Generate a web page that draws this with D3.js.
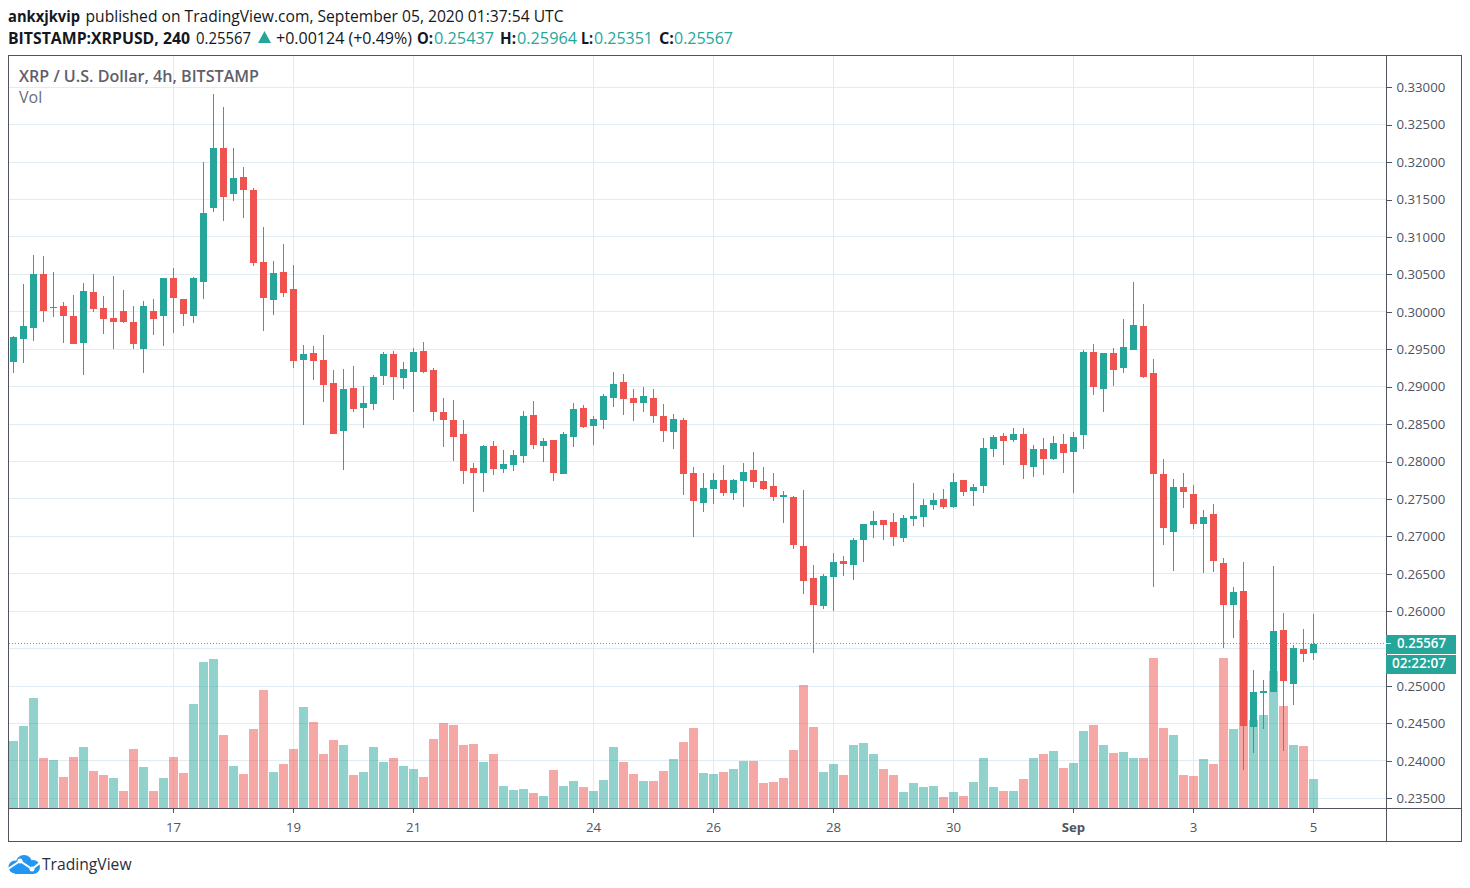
<!DOCTYPE html>
<html>
<head>
<meta charset="utf-8"/>
<title>XRP / U.S. Dollar, 4h, BITSTAMP</title>
<script src="https://d3js.org/d3.v7.min.js"></script>
<style>
  html, body { margin: 0; background: #fff; }
  svg { display: block; }
  text { font-family: "Open Sans", "Noto Sans", sans-serif; }
</style>
</head>
<body>
<svg id="chart" width="1470" height="888"></svg>
<script>
// 4h candles
var opens = [
  .29326,.29633,.29780,.30501,.30047,.30074,.29940,.29579,.30261,.30047,
  .29914,.30007,.29860,.29499,.30007,.29940,.30448,.30167,.29940,.30394,
  .31383,.32185,.31570,.31797,.31624,.30661,.30154,.30528,.30301,.29352,
  .29446,.29352,.29045,.28403,.28978,.28711,.28764,.29138,.29432,.29112,
  .29192,.29472,.29219,.28657,.28550,.28363,.27909,.27842,.28203,.27896,
  .27949,.28069,.28617,.28203,.28283,.27829,.28323,.28711,.28470,.28550,
  .28844,.29058,.28845,.28778,.28845,.28604,.28391,.28551,.27843,.27442,
  .27629,.27749,.27575,.27736,.27883,.27736,.27669,.27522,.27522,.26867,
  .26440,.26066,.26453,.26667,.26613,.26947,.27148,.27215,.27187,.26974,
  .27227,.27254,.27415,.27495,.27388,.27749,.27602,.27668,.28163,.28337,
  .28283,.28363,.27922,.28163,.28029,.28230,.28123,.28350,.29459,.28965,
  .29446,.29245,.29486,.29806,.29178,.27829,.27054,.27655,.27561,.27161,
  .27294,.26639,.26078,.26265,.24448,.24903,.24916,.25744,.25023,.25490,.25437
];
var highs = [
  .29673,.30368,.30755,.30742,.30528,.30127,.30221,.30381,.30501,.30207,
  .30475,.30288,.30074,.30141,.30167,.30448,.30582,.30167,.30466,.31998,
  .32906,.32733,.32185,.31931,.31650,.31129,.30675,.30902,.30622,.29553,
  .29539,.29686,.29219,.29232,.29272,.29005,.29152,.29459,.29472,.29325,
  .29512,.29593,.29245,.28844,.28818,.28550,.27976,.28216,.28270,.28150,
  .28150,.28671,.28804,.28310,.28283,.28390,.28778,.28751,.28604,.28898,
  .29192,.29165,.28965,.28992,.28965,.28765,.28631,.28578,.27923,.27843,
  .27843,.27950,.27763,.27976,.28123,.27923,.27843,.27602,.27535,.27616,
  .26613,.26493,.26774,.26734,.26974,.27161,.27335,.27215,.27308,.27281,
  .27708,.27495,.27575,.27628,.27842,.27749,.27695,.28310,.28350,.28377,
  .28443,.28443,.28216,.28310,.28337,.28363,.28390,.29486,.29566,.29446,
  .29512,.29900,.30394,.30100,.29365,.28029,.27762,.27842,.27682,.27348,
  .27428,.26706,.26319,.26653,.25210,.25076,.26599,.25971,.25544,.25758,.25964
];
var lows = [
  .29179,.29312,.29606,.29860,.29927,.29579,.29566,.29152,.29994,.29700,
  .29499,.29847,.29499,.29179,.29686,.29539,.29713,.29807,.29847,.30167,
  .31330,.31209,.31477,.31249,.30608,.29740,.29954,.30194,.29245,.28484,
  .29085,.28791,.28363,.27882,.28657,.28444,.28684,.29018,.28818,.28965,
  .28657,.29178,.28537,.28190,.28003,.27695,.27321,.27588,.27816,.27842,
  .27869,.27976,.28163,.27989,.27735,.27829,.28190,.28444,.28216,.28430,
  .28724,.28617,.28538,.28658,.28511,.28257,.28163,.27549,.26988,.27322,
  .27429,.27535,.27482,.27388,.27642,.27616,.27469,.27175,.26827,.26226,
  .25438,.26025,.25999,.26466,.26413,.26653,.26974,.26947,.26867,.26920,
  .27134,.27121,.27348,.27361,.27374,.27535,.27401,.27575,.28056,.27949,
  .28256,.27762,.27789,.27815,.28016,.27842,.27575,.28163,.28884,.28657,
  .29005,.29178,.29486,.29112,.26319,.26880,.26533,.27374,.27094,.26506,
  .26519,.25504,.25637,.23874,.24101,.24421,.24916,.24127,.24742,.25317,.25351
];
var closes = [
  .29660,.29807,.30501,.30007,.30060,.29940,.29566,.30274,.30034,.29900,
  .29860,.29860,.29566,.30074,.29900,.30448,.30181,.29967,.30448,.31316,
  .32185,.31530,.31784,.31624,.30648,.30181,.30515,.30247,.29339,.29432,
  .29339,.29018,.28363,.28965,.28697,.28778,.29125,.29432,.29125,.29232,
  .29459,.29192,.28657,.28550,.28323,.27869,.27842,.28203,.27896,.27962,
  .28083,.28604,.28216,.28270,.27842,.28363,.28697,.28457,.28564,.28871,
  .29031,.28831,.28778,.28872,.28604,.28404,.28564,.27829,.27469,.27642,
  .27749,.27575,.27749,.27856,.27722,.27629,.27522,.27549,.26881,.26400,
  .26079,.26466,.26653,.26627,.26947,.27161,.27201,.27148,.26988,.27241,
  .27268,.27415,.27481,.27388,.27722,.27588,.27655,.28176,.28323,.28270,
  .28363,.27949,.28163,.28029,.28243,.28109,.28323,.29459,.28991,.29446,
  .29218,.29526,.29820,.29125,.27829,.27107,.27655,.27588,.27161,.27254,
  .26666,.26078,.26252,.24462,.24916,.24929,.25731,.25063,.25504,.25424,.25567
];
// volume has no scale in the picture, so these are relative units
var volumes = [
  670,820,1100,500,480,310,510,610,370,330,
  300,170,590,410,170,300,510,350,1040,1460,
  1490,730,420,340,790,1180,360,440,590,1010,
  860,540,680,630,330,360,610,460,500,420,
  390,310,690,850,830,630,640,460,540,220,
  180,190,150,120,380,220,270,210,170,280,
  610,460,340,270,270,370,490,660,800,350,
  340,360,390,470,470,250,260,300,580,1230,
  810,360,440,330,630,650,540,390,330,160,
  250,210,220,110,160,120,260,500,210,170,
  170,290,500,540,570,400,450,770,830,630,
  550,560,500,500,1500,800,730,330,320,490,
  440,1500,790,1880,880,930,1370,1020,630,620,290
];
// two near-doji bars whose volume colour differs from the candle colour
var volumeColorFlips = [10, 77];

var priceTicks = [.235,.24,.245,.25,.255,.26,.265,.27,.275,.28,.285,.29,.295,.3,.305,.31,.315,.32,.325,.33];
var timeTickIndex = [16, 28, 40, 58, 70, 82, 94, 106, 118, 130];
var timeTickLabels = ["17", "19", "21", "24", "26", "28", "30", "Sep", "3", "5"];

var lastPrice = 0.25567;
var countdown = "02:22:07";

var up = "#26a69a", down = "#ef5350", gridColor = "#e1ecf2", lineColor = "#50535e";
var frame = {left: 8.5, top: 55.5, right: 1461.5, bottom: 841.5, axisX: 1386.5, axisY: 808.5};

var svg = d3.select("#chart");

var x = d3.scaleLinear().domain([0, 130]).range([13.5, 1313.5]);
var y = d3.scaleLinear().domain([0.235, 0.33]).range([798.3, 87.3]);
var yVol = d3.scaleLinear().domain([0, 1880]).range([808, 620]);

// grid
var grid = svg.append("g").attr("shape-rendering", "crispEdges").attr("stroke", gridColor);
grid.selectAll(".h").data(priceTicks).enter().append("line")
    .attr("x1", frame.left).attr("x2", frame.axisX)
    .attr("y1", function(d) { return y(d); }).attr("y2", function(d) { return y(d); });
grid.selectAll(".v").data(timeTickIndex).enter().append("line")
    .attr("y1", frame.top).attr("y2", frame.axisY)
    .attr("x1", function(d) { return x(d); }).attr("x2", function(d) { return x(d); });

// volume
var idx = d3.range(closes.length);
function isUp(i) { return closes[i] >= opens[i]; }

svg.append("g").attr("shape-rendering", "crispEdges").attr("opacity", 0.5)
  .selectAll("rect").data(idx).enter().append("rect")
    .attr("x", function(i) { return x(i) - 4.5; })
    .attr("width", 9)
    .attr("y", function(i) { return yVol(volumes[i]); })
    .attr("height", function(i) { return yVol(0) - yVol(volumes[i]); })
    .attr("fill", function(i) {
      var u = isUp(i);
      if (volumeColorFlips.indexOf(i) >= 0) u = !u;
      return u ? up : down;
    });

// candles
var candles = svg.append("g").attr("shape-rendering", "crispEdges");
candles.selectAll("line").data(idx).enter().append("line")
    .attr("x1", function(i) { return x(i); })
    .attr("x2", function(i) { return x(i); })
    .attr("y1", function(i) { return y(highs[i]); })
    .attr("y2", function(i) { return y(lows[i]); })
    .attr("stroke", function(i) { return isUp(i) ? up : down; });
candles.selectAll("rect").data(idx).enter().append("rect")
    .attr("x", function(i) { return x(i) - 3.5; })
    .attr("width", 7)
    .attr("y", function(i) { return y(Math.max(opens[i], closes[i])); })
    .attr("height", function(i) { return Math.max(1, Math.abs(y(opens[i]) - y(closes[i]))); })
    .attr("fill", function(i) { return isUp(i) ? up : down; });

// last price line
svg.append("line")
    .attr("x1", frame.left).attr("x2", frame.axisX)
    .attr("y1", y(lastPrice)).attr("y2", y(lastPrice))
    .attr("stroke", "#1fb8aa").attr("stroke-dasharray", "1 2")
    .attr("shape-rendering", "crispEdges");

// frame
var border = svg.append("g").attr("fill", "none").attr("stroke", lineColor).attr("shape-rendering", "crispEdges");
border.append("rect")
    .attr("x", frame.left).attr("y", frame.top)
    .attr("width", frame.right - frame.left).attr("height", frame.bottom - frame.top);
border.append("line").attr("x1", frame.left).attr("x2", frame.right).attr("y1", frame.axisY).attr("y2", frame.axisY);
border.append("line").attr("x1", frame.axisX).attr("x2", frame.axisX).attr("y1", frame.top).attr("y2", frame.bottom);

// axes
var priceAxis = svg.append("g")
    .attr("transform", "translate(" + frame.axisX + ",0)")
    .call(d3.axisRight(y).tickValues(priceTicks).tickFormat(d3.format(".5f")).tickSize(5).tickPadding(5));
priceAxis.select(".domain").remove();
// the last price tag sits where this label would be
priceAxis.selectAll("text").filter(function(d) { return d === 0.255; }).remove();

var timeAxis = svg.append("g")
    .attr("transform", "translate(0," + frame.axisY + ")")
    .call(d3.axisBottom(x).offset(0).tickValues(timeTickIndex)
      .tickFormat(function(d) { return timeTickLabels[timeTickIndex.indexOf(d)]; })
      .tickSize(4).tickPadding(10));
timeAxis.select(".domain").remove();

[priceAxis, timeAxis].forEach(function(a) {
  a.selectAll("line").attr("stroke", lineColor).attr("shape-rendering", "crispEdges");
  a.selectAll("text").attr("fill", lineColor)
    .style("font-family", '"Open Sans", sans-serif').style("font-size", "13.2px");
});
timeAxis.selectAll("text").filter(function(d) { return d === 106; }).style("font-weight", 700);

// last price tags
var tags = [[lastPrice.toFixed(5), 635, 19, 1397, 49], [countdown, 655, 19, 1392, 54]];
tags.forEach(function(t) {
  svg.append("rect").attr("x", 1386).attr("y", t[1]).attr("width", 70).attr("height", t[2]).attr("fill", up);
  svg.append("text").attr("x", t[3]).attr("y", t[1] + 13).attr("fill", "#fff")
    .attr("font-size", 14).attr("font-weight", 600)
    .attr("textLength", t[4]).attr("lengthAdjust", "spacingAndGlyphs").text(t[0]);
});
svg.append("line").attr("x1", 1386).attr("x2", 1391)
    .attr("y1", y(lastPrice)).attr("y2", y(lastPrice))
    .attr("stroke", "#fff").attr("shape-rendering", "crispEdges");

// pane legend
svg.append("text").attr("x", 19).attr("y", 81.5).attr("font-size", 15.5).attr("font-weight", 600)
    .attr("fill", "#5d606b").attr("textLength", 240).attr("lengthAdjust", "spacingAndGlyphs")
    .text("XRP / U.S. Dollar, 4h, BITSTAMP");
svg.append("text").attr("x", 19).attr("y", 102.5).attr("font-size", 16)
    .attr("fill", "#6a6d78").text("Vol");

// header
function put(px, py, str, weight, fill, len) {
  svg.append("text").attr("x", px).attr("y", py).attr("font-size", 15.5)
    .attr("font-weight", weight).attr("fill", fill)
    .attr("textLength", len).attr("lengthAdjust", "spacingAndGlyphs").text(str);
}
var ink = "#131722";
put(8, 21.5, "ankxjkvip", 700, ink, 72);
put(85.5, 21.5, "published on TradingView.com, September 05, 2020 01:37:54 UTC", 400, ink, 478);
put(8, 43.5, "BITSTAMP:XRPUSD, 240", 700, ink, 182);
put(196, 43.5, "0.25567", 400, ink, 55);
svg.append("path").attr("d", "M258,43L264.5,31L271,43Z").attr("fill", up);
put(276, 43.5, "+0.00124 (+0.49%)", 400, ink, 136);
put(417, 43.5, "O:", 700, ink, 16);
put(434, 43.5, "0.25437", 400, up, 60);
put(500, 43.5, "H:", 700, ink, 16);
put(517, 43.5, "0.25964", 400, up, 60);
put(581, 43.5, "L:", 700, ink, 12);
put(594, 43.5, "0.25351", 400, up, 59);
put(659, 43.5, "C:", 700, ink, 15);
put(674, 43.5, "0.25567", 400, up, 59);

// logo
var logo = svg.append("g").attr("fill", "#2196f3");
logo.append("circle").attr("cx", 15).attr("cy", 867).attr("r", 6.5);
logo.append("circle").attr("cx", 24).attr("cy", 863).attr("r", 8);
logo.append("circle").attr("cx", 33).attr("cy", 867).attr("r", 7);
logo.append("rect").attr("x", 15).attr("y", 866).attr("width", 18).attr("height", 8);
svg.append("path").attr("d", "M8,869L20,861L32,869L41,862")
    .attr("fill", "none").attr("stroke", "#fff").attr("stroke-width", 2);
svg.append("circle").attr("cx", 20).attr("cy", 861).attr("r", 2.5).attr("fill", "#fff");
svg.append("circle").attr("cx", 32).attr("cy", 869).attr("r", 2.5).attr("fill", "#fff");
svg.append("text").attr("x", 42).attr("y", 869.5).attr("font-size", 15.5).attr("fill", "#2a2e39")
    .attr("textLength", 89.5).attr("lengthAdjust", "spacingAndGlyphs").text("TradingView");
</script>
</body>
</html>
